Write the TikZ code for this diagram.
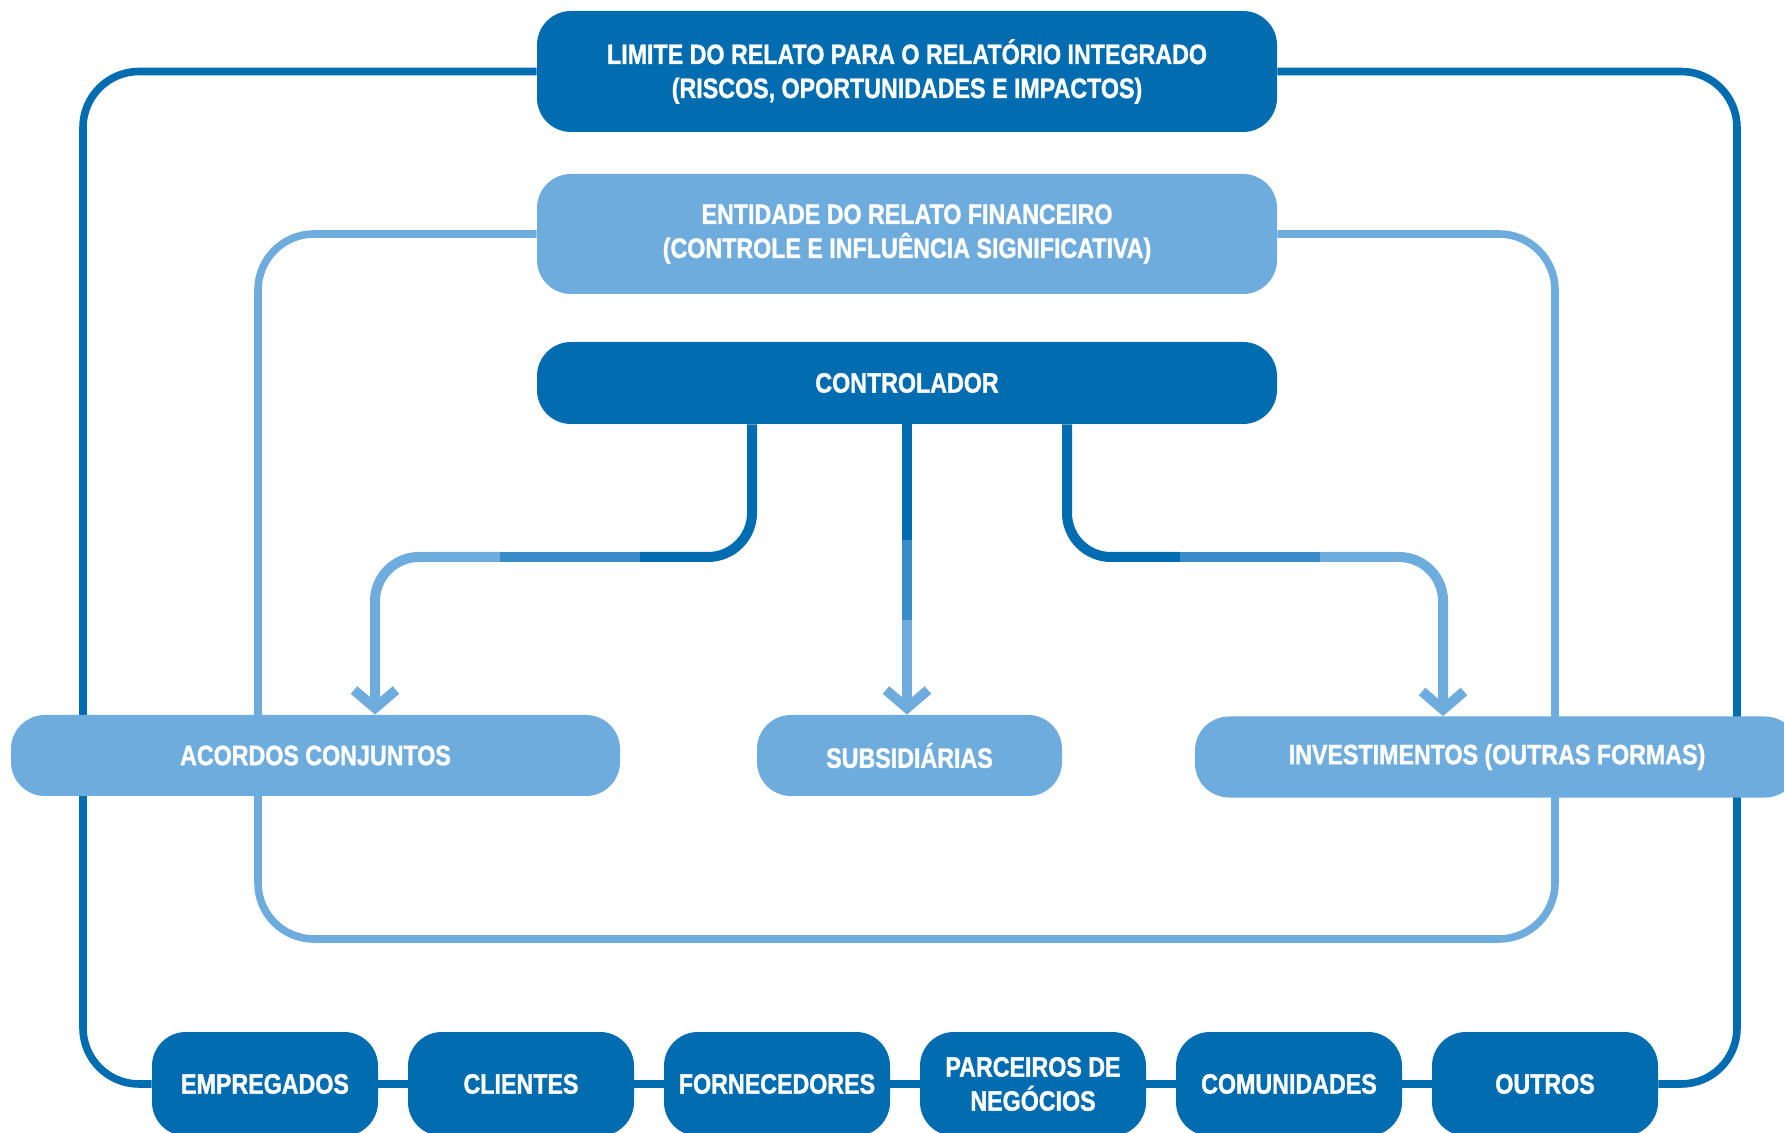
\documentclass[tikz,border=0pt]{standalone}
\usepackage{fontspec}
\setmainfont{Liberation Sans}[FakeStretch=0.83, BoldFeatures={FakeBold=1.2}]
\usetikzlibrary{arrows.meta}

\definecolor{darkblue}{RGB}{2,108,176}
\definecolor{lightblue}{RGB}{111,172,222}
\colorlet{midblue}{darkblue!50!lightblue}

\pgfdeclarelayer{background}
\pgfsetlayers{background,main}

\tikzset{
  box/.style={rounded corners=17pt, text=white, align=center, inner sep=0pt,
    font=\fontsize{14}{17}\selectfont\bfseries},
  darkbox/.style={box, fill=darkblue},
  lightbox/.style={box, fill=lightblue},
  widebox/.style={minimum width=370pt},
  rowbox/.style={minimum height=40.5pt},
  footbox/.style={minimum width=113pt, minimum height=52pt},
  loopline/.style={line width=3.8pt, rounded corners=28pt},
  link/.style={line width=5pt, rounded corners=22pt},
  headtip/.style={-{Straight Barb[length=9pt, width=21pt]}}
}

\begin{document}
\begin{tikzpicture}[x=0.5pt, y=-0.5pt]
\useasboundingbox (0,0) rectangle (1784,1133);
\clip (0,0) rectangle (1784,1133);

% boxes
\node[darkbox, widebox, minimum height=60.5pt] (limite) at (907,71.5)
  {LIMITE DO RELATO PARA O RELATÓRIO INTEGRADO\\(RISCOS, OPORTUNIDADES E IMPACTOS)};
\node[lightbox, widebox, minimum height=60pt] (entidade) at (907,234)
  {ENTIDADE DO RELATO FINANCEIRO\\(CONTROLE E INFLUÊNCIA SIGNIFICATIVA)};
\node[darkbox, widebox, minimum height=41pt] (controlador) at (907,383) {CONTROLADOR};

\node[lightbox, rowbox, minimum width=304.5pt] (acordos) at (315.5,755.5) {ACORDOS CONJUNTOS};
\node[lightbox, rowbox, minimum width=152.5pt] (subsidiarias) at (909.5,755.5) {SUBSIDIÁRIAS};
\node[lightbox, rowbox, minimum width=302pt] (investimentos) at (1497,757) {INVESTIMENTOS (OUTRAS FORMAS)};

\foreach \name/\label [count=\i] in {empregados/EMPREGADOS, clientes/CLIENTES,
    fornecedores/FORNECEDORES, parceiros/{PARCEIROS DE\\NEGÓCIOS},
    comunidades/COMUNIDADES, outros/OUTROS}
  \node[darkbox, footbox] (\name) at ({265+256*(\i-1)},1084) {\label};

% turning points
\coordinate (outerL) at (83,0);
\coordinate (outerR) at (1737,0);
\coordinate (innerBL) at (258,939);
\coordinate (innerTR) at (1555,234);
\coordinate (srcL) at (752,0);
\coordinate (srcR) at (1067,0);
\coordinate (colL) at (375,0);
\coordinate (colR) at (1443,0);
\coordinate (jl1) at (640,557);
\coordinate (jl2) at (500,557);
\coordinate (jr1) at (1180,557);
\coordinate (jr2) at (1320,557);
\coordinate (jm1) at (907,540);
\coordinate (jm2) at (907,620);

\begin{pgfonlayer}{background}
% outer boundary
\draw[loopline, darkblue] (limite.west) -| (outerL |- empregados.west) -- (empregados.west);
\draw[loopline, darkblue] (limite.east) -| (outerR |- outros.east) -- (outros.east);
\foreach \a/\b in {empregados/clientes, clientes/fornecedores, fornecedores/parceiros,
    parceiros/comunidades, comunidades/outros}
  \draw[darkblue, line width=4pt] (\a) -- (\b);
% inner boundary
\draw[loopline, lightblue] (entidade.west) -| (innerBL) -| (innerTR) -- (entidade.east);
\end{pgfonlayer}

% links from controlador
\draw[link, darkblue] (controlador.south -| srcL) |- (jl1);
\draw[link, midblue] (jl1) -- (jl2);
\draw[link, lightblue, headtip] (jl2) -| (colL |- acordos.north);
\draw[link, darkblue] (controlador.south) -- (jm1);
\draw[link, midblue] (jm1) -- (jm2);
\draw[link, lightblue, headtip] (jm2) -- (jm2 |- subsidiarias.north);
\draw[link, darkblue] (controlador.south -| srcR) |- (jr1);
\draw[link, midblue] (jr1) -- (jr2);
\draw[link, lightblue, headtip] (jr2) -| (colR |- investimentos.north);
\end{tikzpicture}
\end{document}
